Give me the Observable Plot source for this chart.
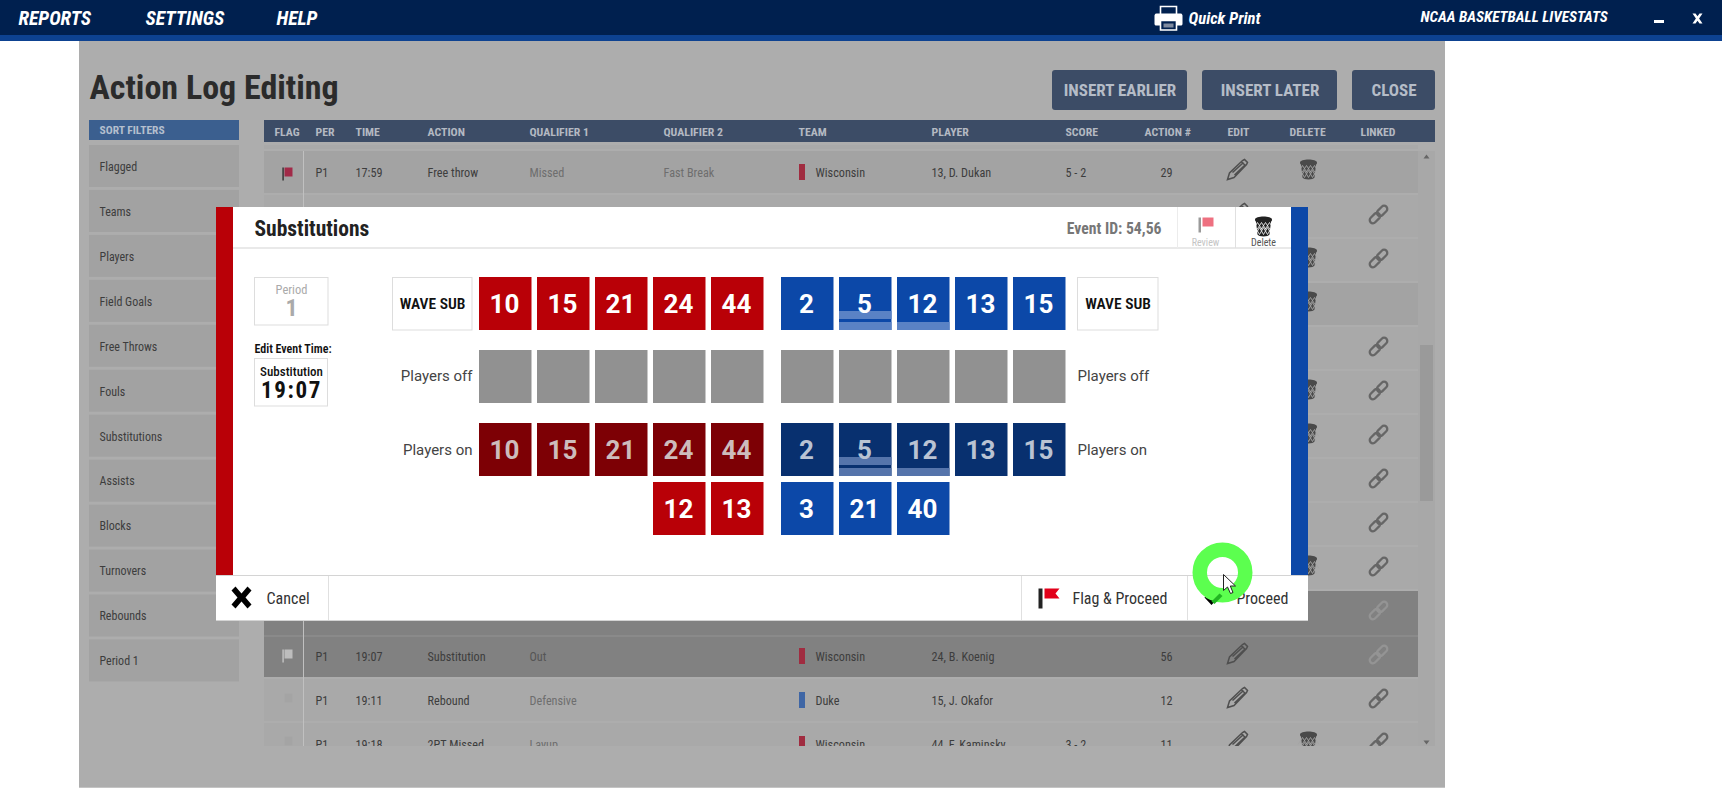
<!DOCTYPE html>
<html><head><meta charset="utf-8">
<script src="https://cdn.jsdelivr.net/npm/d3@7"></script>
<script src="https://cdn.jsdelivr.net/npm/@observablehq/plot@0.6"></script>
<style>html,body{margin:0;padding:0;background:#fff;overflow:hidden}svg{display:block}</style>
</head><body><div id="chart"></div>
<script>
// ---------- content ----------
const menuItems = ["REPORTS","SETTINGS","HELP"];
const pageTitle = "Action Log Editing";
const actionButtons = ["INSERT EARLIER","INSERT LATER","CLOSE"];
const filterLabels = ["Flagged","Teams","Players","Field Goals","Free Throws","Fouls","Substitutions","Assists","Blocks","Turnovers","Rebounds","Period 1"];
const columnLabels = ["FLAG","PER","TIME","ACTION","QUALIFIER 1","QUALIFIER 2","TEAM","PLAYER","SCORE","ACTION #","EDIT","DELETE","LINKED"];
const logRowIndex = [0,11,12,13];
const logPeriods = ["P1","P1","P1","P1"];
const logTimes = ["17:59","19:07","19:11","19:18"];
const logActions = ["Free throw","Substitution","Rebound","2PT Missed"];
const logQualifier1 = ["Missed","Out","Defensive","Layup"];
const logQualifier2 = ["Fast Break","","",""];
const logTeams = ["Wisconsin","Wisconsin","Duke","Wisconsin"];
const logPlayers = ["13, D. Dukan","24, B. Koenig","15, J. Okafor","44, F. Kaminsky"];
const logScores = ["5 - 2","","","3 - 2"];
const logNumbers = ["29","56","12","11"];
const rowsWithPencil = [0,1,11,12,13];
const rowsWithTrash = [0,2,3,5,6,9,13];
const rowsWithLink = [1,2,4,5,6,7,8,9,10,11,12,13];
const homeOnCourt = [10,15,21,24,44];
const awayOnCourt = [2,5,12,13,15];
const homeExtra = [12,13];
const awayExtra = [3,21,40];
const foulPlayers = [5,12];
const foulStripes = [2,1];

// ---------- layout ----------
const sans = '"Roboto Condensed","Liberation Sans Narrow",Roboto,sans-serif';
const roboto = 'Roboto,"Liberation Sans",sans-serif';
const rowTop = i => 151 + i*44, rowMid = i => rowTop(i) + 21;
const colX = [274,315,355,427,529,663,798,931,1065,1144,1227,1289,1360];
const dataX = {per:315,time:355,action:427,q1:529,q2:663,teamBar:799,team:815,player:931,score:1065,num:1166,pencil:1237,trash:1308,link:1378};
const cellW = 52.5, cellH = 53, pitch = 58;
const teamLeft = {home:479, away:781};
const gridTop = {starters:277, off:350, on:423, extra:482};
const colors = {
  home:"#b90007", homeDim:"#7d0005", away:"#0c48a8", awayDim:"#08306f", off:"#919191",
  panel:"#adadad", row:"#a9a9a9", rowAlt:"#a3a3a3", rowDark:"#818181", slate:"#3c4c66", filter:"#a2a2a2"
};

// ---------- helpers going through Plot's scales ----------
const box = (x1,y1,x2,y2,fill,o={}) => Plot.rect([0],{x1:()=>x1,x2:()=>x2,y1:()=>y1,y2:()=>y2,fill,...o});
const label = (text,x,y,size,fill,o={}) => Plot.text([text],{x:()=>x,y:()=>y,text:d=>d,fontSize:size,fill,fontFamily:sans,textAnchor:"start",lineAnchor:"middle",...o});
const texts = (data,o) => Plot.text(data,{fontFamily:sans,textAnchor:"start",lineAnchor:"middle",...o});
const icon = (data,x,y,draw,o={}) => Plot.dot(data,{x,y,symbol:{draw},r:5,fill:"none",stroke:"#444",strokeWidth:1.3,...o});
const one = (x,y,draw,o) => icon([0],()=>x,()=>y,draw,o);

// ---------- glyphs ----------
function stadium(c,cx,cy,ang,len,r){
  const dx=Math.cos(ang)*len/2, dy=Math.sin(ang)*len/2;
  c.moveTo(cx+dx+Math.cos(ang-Math.PI/2)*r, cy+dy+Math.sin(ang-Math.PI/2)*r);
  c.arc(cx+dx,cy+dy,r,ang-Math.PI/2,ang+Math.PI/2);
  c.lineTo(cx-dx+Math.cos(ang+Math.PI/2)*r, cy-dy+Math.sin(ang+Math.PI/2)*r);
  c.arc(cx-dx,cy-dy,r,ang+Math.PI/2,ang+3*Math.PI/2);
  c.closePath();
}
const linkGlyph = c => { stadium(c,3.6,-3.6,-Math.PI/4,5.5,3.2); stadium(c,-3.6,3.6,-Math.PI/4,5.5,3.2); };
const pencilGlyph = c => {
  c.moveTo(-10,10); c.lineTo(-8,3.5); c.lineTo(5,-9); c.lineTo(7,-10); c.lineTo(10,-7); c.lineTo(9,-5); c.lineTo(-3.5,8); c.closePath();
  c.moveTo(-5,3); c.lineTo(6,-7);
  c.moveTo(-3,5.5); c.lineTo(7.5,-4.5);
  c.moveTo(3.5,-8); c.lineTo(8.5,-3.5);
};
const trashBody = c => {
  c.moveTo(-8.5,-7); c.bezierCurveTo(-8.5,-11,8.5,-11,8.5,-7); c.bezierCurveTo(8.5,-5,7.5,-5,7.5,-5);
  c.lineTo(6,8); c.bezierCurveTo(5,10.5,-5,10.5,-6,8); c.lineTo(-7.5,-5); c.bezierCurveTo(-7.5,-5,-8.5,-5,-8.5,-7); c.closePath();
};
const trashHatch = c => {
  for (const k of [-6,-2,2,6]) {
    c.moveTo(k,-4); c.lineTo(k+4.5,3); c.moveTo(k,-4); c.lineTo(k-4.5,3);
    c.moveTo(k-2,1); c.lineTo(k+2,8); c.moveTo(k+2,1); c.lineTo(k-2,8);
  }
};
const flagCloth = c => { c.moveTo(0,-6); c.lineTo(8,-6); c.lineTo(8,3); c.lineTo(0,3); c.closePath(); };
const flagPole = c => { c.rect(-2.2,-6,1.6,13); };
const xGlyph = c => {
  c.moveTo(-10,-7); c.lineTo(-6,-11); c.lineTo(0,-4); c.lineTo(6,-11); c.lineTo(10,-7); c.lineTo(4,0);
  c.lineTo(10,7); c.lineTo(6,11); c.lineTo(0,4); c.lineTo(-6,11); c.lineTo(-10,7); c.lineTo(-4,0); c.closePath();
};
const smallX = c => { c.moveTo(-5,-5); c.lineTo(-2,-5); c.lineTo(0,-2.2); c.lineTo(2,-5); c.lineTo(5,-5); c.lineTo(1.6,0); c.lineTo(5,5); c.lineTo(2,5); c.lineTo(0,2.2); c.lineTo(-2,5); c.lineTo(-5,5); c.lineTo(-1.6,0); c.closePath(); };
const printerTop = c => { c.rect(-8,-11,16,9); };
const printerBody = c => { c.moveTo(-12,-5); c.lineTo(12,-5); c.bezierCurveTo(14,-5,14,-3,14,-2); c.lineTo(14,5); c.bezierCurveTo(14,7,13,7,12,7); c.lineTo(-12,7); c.bezierCurveTo(-13,7,-14,7,-14,5); c.lineTo(-14,-2); c.bezierCurveTo(-14,-3,-14,-5,-12,-5); c.closePath(); };
const printerTray = c => { c.rect(-8,2,16,9.5); };
const printerSlot = c => { c.rect(-5,5,10,4); };
const bigFlag = c => { c.moveTo(0,-10); c.lineTo(15,-10); c.lineTo(11,-5); c.lineTo(15,0); c.lineTo(0,0); c.closePath(); };
const checkBlack = c => { c.moveTo(-6,-2); c.lineTo(-2,-6); c.lineTo(1,-3); c.lineTo(4,-6); c.lineTo(8,-2); c.lineTo(1,5.5); c.closePath(); };
const checkGreen = c => { c.moveTo(-3,3); c.lineTo(5,-5); c.lineTo(8,-2.5); c.lineTo(0,5.5); c.closePath(); };
const cursorGlyph = c => { c.moveTo(0,0); c.lineTo(0,16); c.lineTo(4,12.5); c.lineTo(7,19); c.lineTo(9.5,18); c.lineTo(6.8,11.5); c.lineTo(12,11.5); c.closePath(); };

// ---------- derived tables ----------
const gridCell = (team,slot,row,number,fill,ink) => ({team,slot,row,number,fill,ink});
const cells = [
  ...homeOnCourt.map((n,i)=>gridCell("home",i,"starters",n,colors.home,"#fff")),
  ...awayOnCourt.map((n,i)=>gridCell("away",i,"starters",n,colors.away,"#fff")),
  ...homeOnCourt.map((n,i)=>gridCell("home",i,"off","",colors.off,"#fff")),
  ...awayOnCourt.map((n,i)=>gridCell("away",i,"off","",colors.off,"#fff")),
  ...homeOnCourt.map((n,i)=>gridCell("home",i,"on",n,colors.homeDim,"#cdbcbc")),
  ...awayOnCourt.map((n,i)=>gridCell("away",i,"on",n,colors.awayDim,"#b9c3d3")),
  ...homeExtra.map((n,i)=>gridCell("home",i+3,"extra",n,colors.home,"#fff")),
  ...awayExtra.map((n,i)=>gridCell("away",i,"extra",n,colors.away,"#fff"))
];
const cellX = d => teamLeft[d.team] + d.slot*pitch;
const cellY = d => gridTop[d.row];
const stripes = cells.filter(d=>d.team==="away" && (d.row==="starters"||d.row==="on") && foulPlayers.includes(d.number))
  .flatMap(d=>{const n=foulStripes[foulPlayers.indexOf(d.number)];return d3.range(n).map(k=>({...d,k}));});
const logRows = logRowIndex.map((r,i)=>({r,per:logPeriods[i],time:logTimes[i],action:logActions[i],q1:logQualifier1[i],q2:logQualifier2[i],team:logTeams[i],player:logPlayers[i],score:logScores[i],num:logNumbers[i]}));
const isDark = i => i===10||i===11;
const rowFill = i => isDark(i)?colors.rowDark:(i===0||i===3)?colors.rowAlt:colors.row;
const ink = "#3d3d3d";
const rowText = (key,o={}) => texts(logRows,{x:()=>dataX[key],y:d=>rowMid(d.r)+0.8,text:key,fontSize:12.2,fill:ink,...o});

const marks = [
  // top bar
  box(0,0,1722,35,"#00204f"), box(0,35,1722,41,"#0d4291"),
  // dimmed page
  box(79,41,1445,787,colors.panel), box(79,787,1445,788,"#c4c4c4"),
  texts(menuItems,{x:(d,i)=>[18,145,276][i],y:()=>18,text:d=>d,fontSize:19.6,fontWeight:700,fontStyle:"italic",fill:"#fff"}),
  one(1168,17,printerTop,{fill:"#00204f",stroke:"#fff",strokeWidth:1.6}),
  one(1168,18,printerBody,{fill:"#fff",stroke:"none"}),
  one(1168,18,printerTray,{fill:"#00204f",stroke:"#fff",strokeWidth:1.6}),
  one(1168,18,printerSlot,{fill:"#7f8ba0",stroke:"none"}),
  label("Quick Print",1188,18.5,16.6,"#fff",{fontWeight:700,fontStyle:"italic"}),
  label("NCAA BASKETBALL LIVESTATS",1420,17,15.2,"#fff",{fontWeight:700,fontStyle:"italic"}),
  box(1654,20,1664,23,"#fff"), one(1697,18,smallX,{fill:"#fff",stroke:"none"}),
  label(pageTitle,89,88,34,"#2b2b2b",{fontWeight:700}),
  // buttons
  Plot.rect(actionButtons,{x1:(d,i)=>[1052,1202,1352][i],x2:(d,i)=>[1187,1337,1435][i],y1:()=>70,y2:()=>110,fill:colors.slate,rx:3}),
  texts(actionButtons,{x:(d,i)=>[1119.5,1269.5,1393.5][i],y:()=>90.5,text:d=>d,fontSize:17,fontWeight:700,fill:"#b5bcc7",textAnchor:"middle"}),
  // filters
  box(89,120,239,140,"#3b5f8f"),
  label("SORT FILTERS",99,130,11.5,"#b4bfce",{fontWeight:700}),
  Plot.rect(filterLabels,{x1:()=>89,x2:()=>239,y1:(d,i)=>145+i*44.95,y2:(d,i)=>187+i*44.95,fill:colors.filter}),
  texts(filterLabels,{x:()=>99,y:(d,i)=>166.5+i*44.95,text:d=>d,fontSize:12,fill:ink}),
  // table
  box(264,120,1435,142,colors.slate),
  texts(columnLabels,{x:(d,i)=>colX[i],y:()=>132,text:d=>d,fontSize:11.8,fontWeight:700,fill:"#b4b9c2"}),
  box(264,145,1418,149,"#a9a9a9"),
  Plot.rect(d3.range(14),{x1:()=>264,x2:()=>1418,y1:i=>rowTop(i),y2:i=>rowTop(i)+42,fill:i=>rowFill(i)}),
  box(264,633,1418,635,"#818181"), box(264,635,1418,637,"#8a8a8a"),
  box(303,151,304,746,"#c0c0c0"),
  box(1418,151,1435,746,"#a8a8a8"), box(1420,345,1433,501,"#9a9a9a"),
  one(1426,156,c=>{c.moveTo(-3,2);c.lineTo(3,2);c.lineTo(0,-2);c.closePath();},{fill:"#666",stroke:"none"}),
  one(1426,742,c=>{c.moveTo(-3,-2);c.lineTo(3,-2);c.lineTo(0,2);c.closePath();},{fill:"#666",stroke:"none"}),
  rowText("per"), rowText("time"), rowText("action"),
  rowText("q1",{fill:d=>isDark(d.r)?"#555":"#6e6e6e"}),
  rowText("q2",{fill:"#6e6e6e"}),
  Plot.rect(logRows,{x1:()=>dataX.teamBar,x2:()=>dataX.teamBar+6,y1:d=>rowMid(d.r)-8,y2:d=>rowMid(d.r)+8,fill:d=>d.team==="Duke"?"#3f66a5":"#a02c40"}),
  rowText("team"), rowText("player"), rowText("score"),
  rowText("num",{textAnchor:"middle"}),
  // row flags
  one(284,173,flagPole,{fill:"#3d3d3d",stroke:"none"}), one(284,173,flagCloth,{fill:"#a12a48",stroke:"none"}),
  one(284,655,flagPole,{fill:"#bdbdbd",stroke:"none"}), one(284,655,flagCloth,{fill:"#bdbdbd",stroke:"none"}),
  one(284,699,flagCloth,{fill:"#a4a4a4",stroke:"none"}), one(284,742,flagCloth,{fill:"#a4a4a4",stroke:"none"}),
  // row icons
  icon(rowsWithPencil,()=>dataX.pencil,i=>rowMid(i)-3,pencilGlyph,{stroke:"#4f4f4f",strokeWidth:1.5}),
  icon(rowsWithTrash,()=>dataX.trash,i=>rowMid(i)-3,trashBody,{fill:"#4a4a4a",stroke:"none"}),
  icon(rowsWithTrash,()=>dataX.trash,i=>rowMid(i)-3,trashHatch,{stroke:"#a4a4a4",strokeWidth:.9}),
  icon(rowsWithLink,()=>dataX.link,i=>rowMid(i)-2,linkGlyph,{stroke:i=>isDark(i)?"#949494":"#666",strokeWidth:2.3}),
  // clip of scrolling table
  box(264,746,1435,787,colors.panel),

  // modal
  box(216,207,233,576,colors.home), box(1291,207,1308,576,colors.away),
  box(233,207,1291,576,"#fff"), box(216,576,1308,620,"#fff"),
  box(233,247.5,1291,248.5,"#d4d4d4"), box(216,575,1308,576,"#d4d4d4"), box(216,620,1308,621,"#d4d4d4"),
  box(1177,207,1178,248,"#ececec"), box(1235,207,1236,248,"#e0e0e0"),
  box(328,576,329,620,"#e0e0e0"), box(1021,576,1022,620,"#e0e0e0"), box(1187,576,1188,620,"#e0e0e0"),
  label("Substitutions",254,228.5,21.5,"#222",{fontWeight:700}),
  label("Event ID: 54,56",1161,228.5,15.7,"#777",{fontWeight:700,textAnchor:"end"}),
  one(1199,224,c=>{c.rect(-1,-7,2.5,15);},{fill:"#9a9a9a",stroke:"none"}),
  one(1207,221,c=>{c.moveTo(-5,-4);c.lineTo(6,-4);c.lineTo(6,5);c.lineTo(-5,5);c.closePath();},{fill:"#ee7080",stroke:"none"}),
  label("Review",1205,242,10,"#c4c4c4",{textAnchor:"middle"}),
  one(1263,226,trashBody,{fill:"#222",stroke:"none"}),
  one(1263,226,trashHatch,{stroke:"#fff",strokeWidth:.8}),
  label("Delete",1263,242,10,"#555",{textAnchor:"middle"}),
  // period box
  box(254.5,277.5,328,325,"#fff",{stroke:"#ddd"}),
  label("Period",291,289,12.5,"#aaa",{textAnchor:"middle"}),
  label("1",291,308,24,"#aaa",{textAnchor:"middle",fontWeight:700}),
  label("Edit Event Time:",254,348.5,12,"#111",{fontWeight:600}),
  box(254.5,358.5,327.5,406,"#fff",{stroke:"#ddd"}),
  label("Substitution",291,371,13,"#111",{textAnchor:"middle",fontWeight:500}),
  label("19:07",291,390,23,"#111",{textAnchor:"middle",fontWeight:700}),
  // wave sub
  Plot.rect(["home","away"],{x1:d=>d==="home"?392.5:1077.5,x2:d=>d==="home"?472:1158,y1:()=>277.5,y2:()=>330,fill:"#fff",stroke:"#ddd"}),
  texts(["home","away"],{x:d=>d==="home"?432:1117.5,y:()=>304,text:()=>"WAVE SUB",fontSize:15.5,fontWeight:600,fill:"#111",textAnchor:"middle"}),
  // players grid
  Plot.rect(cells,{x1:cellX,x2:d=>cellX(d)+cellW,y1:cellY,y2:d=>cellY(d)+cellH,fill:"fill"}),
  Plot.rect(stripes,{x1:cellX,x2:d=>cellX(d)+cellW,y1:d=>cellY(d)+cellH-8-d.k*11,y2:d=>cellY(d)+cellH-d.k*11,fill:d=>d.row==="on"?"#5574ab":"#5a82c5"}),
  Plot.text(cells.filter(d=>d.number!==""),{x:d=>cellX(d)+cellW/2-1.3,y:d=>cellY(d)+cellH/2+0.3,text:"number",fontSize:26,fontWeight:700,fill:"ink",fontFamily:roboto}),
  texts(["Players off","Players on"],{x:()=>472,y:(d,i)=>[376,450][i],text:d=>d,fontSize:15,fill:"#444",textAnchor:"end",fontFamily:roboto}),
  texts(["Players off","Players on"],{x:()=>1077,y:(d,i)=>[376,450][i],text:d=>d,fontSize:15,fill:"#444",fontFamily:roboto}),
  // footer
  one(241,597,xGlyph,{fill:"#000",stroke:"none"}),
  label("Cancel",266,598,16,"#333"),
  one(1040,598,c=>{c.rect(-2,-10,4,20);},{fill:"#222",stroke:"none"}),
  one(1044,598,bigFlag,{fill:"#e2001a",stroke:"none"}),
  label("Flag & Proceed",1072,598,16,"#333"),
  label("Proceed",1236,598,16,"#333"),
  one(1210,599,checkBlack,{fill:"#000",stroke:"none"}),
  // pointer highlight
  Plot.dot([0],{x:()=>1222,y:()=>572,r:22.75,fill:"none",stroke:"#5cff4f",strokeWidth:14.5}),
  one(1214,598,checkGreen,{fill:"#22b522",stroke:"none"}),
  one(1223,574,cursorGlyph,{fill:"#fff",stroke:"#222",strokeWidth:1})
];

const chart = Plot.plot({
  width:1722, height:812, margin:0,
  x:{domain:[0,1722],range:[0,1722],axis:null},
  y:{domain:[0,812],range:[0,812],axis:null},
  style:{background:"#fff",fontFamily:sans},
  marks
});
d3.select(chart).selectAll("text").filter(function(){return this.textContent==="19:07"&&this.parentNode.getAttribute("font-size")==="23";}).style("letter-spacing","1.6px");
d3.select(chart).selectAll("g[font-size='23'] text").style("letter-spacing","1.6px");
document.getElementById("chart").append(chart);
</script></body></html>
